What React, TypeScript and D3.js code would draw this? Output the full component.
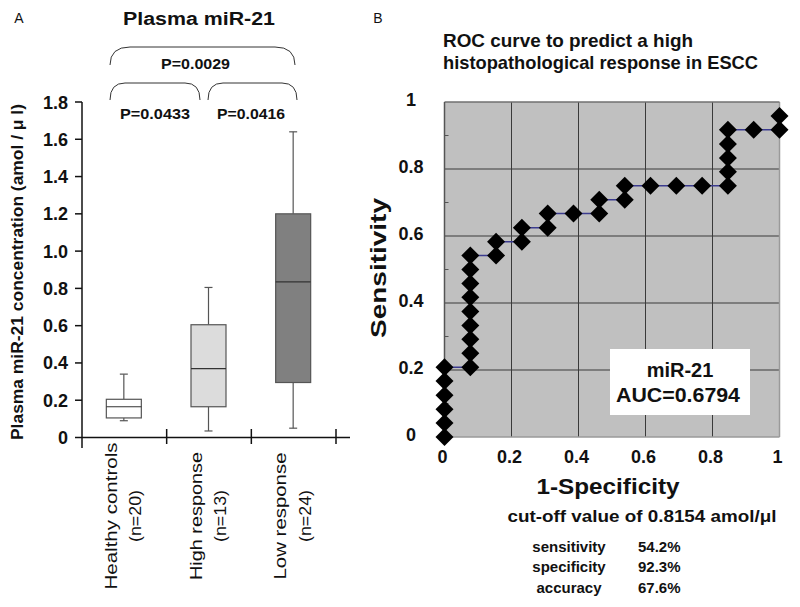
import React from "react";
import * as d3 from "d3";

// ---------- Panel A data ----------
const categories = ["Healthy controls", "High response", "Low response"];
const groupSizes = ["(n=20)", "(n=13)", "(n=24)"];
const whiskerLow = [0.09, 0.035, 0.05];
const q1 = [0.105, 0.165, 0.295];
const medians = [0.165, 0.37, 0.835];
const q3 = [0.205, 0.605, 1.2];
const whiskerHigh = [0.34, 0.805, 1.64];
const boxFills = ["#ffffff", "#dcdcdc", "#808080"];
const yTicksA = [0, 0.2, 0.4, 0.6, 0.8, 1.0, 1.2, 1.4, 1.6, 1.8];
const pValues = ["P=0.0029", "P=0.0433", "P=0.0416"];

// ---------- Panel B data ----------
const rocFpr = [
  0, 0, 0, 0, 0, 0,
  0.077, 0.077, 0.077, 0.077, 0.077, 0.077, 0.077, 0.077, 0.077,
  0.154, 0.154,
  0.231, 0.231,
  0.308, 0.308,
  0.385,
  0.462, 0.462,
  0.538, 0.538,
  0.615, 0.692, 0.769,
  0.846, 0.846, 0.846, 0.846, 0.846,
  0.923,
  1.0, 1.0,
];
const rocTpr = [
  0, 0.042, 0.083, 0.125, 0.167, 0.208,
  0.208, 0.25, 0.292, 0.333, 0.375, 0.417, 0.458, 0.5, 0.542,
  0.542, 0.583,
  0.583, 0.625,
  0.625, 0.667,
  0.667,
  0.667, 0.708,
  0.708, 0.75,
  0.75, 0.75, 0.75,
  0.75, 0.792, 0.833, 0.875, 0.917,
  0.917,
  0.917, 0.958,
];
const rocTicks = [0, 0.2, 0.4, 0.6, 0.8, 1];
const rocMinor = [0.1, 0.3, 0.5, 0.7, 0.9];
const statLabels = ["sensitivity", "specificity", "accuracy"];
const statValues = ["54.2%", "92.3%", "67.6%"];

const FONT = "'Liberation Sans', Arial, Helvetica, sans-serif";

type TProps = {
  x: number; y: number; s: number; bold?: boolean; anchor?: string;
  rot?: number; len?: number; fill?: string; children: React.ReactNode;
};
function T({ x, y, s, bold = true, anchor = "middle", rot = 0, len, fill = "#111", children }: TProps) {
  return (
    <text
      transform={`translate(${x},${y}) rotate(${rot})`}
      fontSize={s}
      fontWeight={bold ? "bold" : "normal"}
      textAnchor={anchor as any}
      fill={fill}
      fontFamily={FONT}
      {...(len ? { textLength: len, lengthAdjust: "spacingAndGlyphs" } : {})}
    >
      {children}
    </text>
  );
}

function bracket(x1: number, x2: number, yTop: number, yBot: number, r: number) {
  const p = d3.path();
  p.moveTo(x1, yBot);
  p.quadraticCurveTo(x1, yTop, x1 + r, yTop);
  p.lineTo(x2 - r, yTop);
  p.quadraticCurveTo(x2, yTop, x2, yBot);
  return p.toString();
}

export default function App() {
  // ----- Panel A scales -----
  const yA = d3.scaleLinear().domain([0, 1.8]).range([437.5, 102]);
  const xA = d3.scaleBand().domain(categories).range([82, 336]);
  const bw = xA.bandwidth();
  const boxW = 35;
  const axisA = 82;

  // ----- Panel B scales -----
  const xB = d3.scaleLinear().domain([0, 1]).range([444.5, 779.5]);
  const yB = d3.scaleLinear().domain([0, 1]).range([437, 102]);
  const rocPts: [number, number][] = rocFpr.map((f, i) => [f, rocTpr[i]]);
  const line = d3.line<[number, number]>().x((d) => xB(d[0])).y((d) => yB(d[1]));
  const dia = 9;

  return (
    <svg width={800} height={607} style={{ position: "absolute", left: 0, top: 0, background: "#fff" }}>
      <rect x={0} y={0} width={800} height={607} fill="#fff" />
      {/* Panel letters */}
      <T x={19} y={23} s={14} bold={false}>A</T>
      <T x={378} y={23} s={14} bold={false}>B</T>

      {/* ================= Panel A ================= */}
      <T x={199} y={25} s={18} len={152}>Plasma miR-21</T>

      {/* brackets */}
      <g fill="none" stroke="#333" strokeWidth={1}>
        <path d={bracket(110, 295, 47, 65, 20)} />
        <path d={bracket(110, 200, 83, 100, 15)} />
        <path d={bracket(208, 297, 83, 100, 15)} />
      </g>
      <T x={195.5} y={69} s={15} len={69}>{pValues[0]}</T>
      <T x={155} y={119} s={15} len={70}>{pValues[1]}</T>
      <T x={251} y={119} s={15} len={68}>{pValues[2]}</T>

      {/* y axis */}
      <g stroke="#111" strokeWidth={1.5}>
        <line x1={axisA} x2={axisA} y1={yA(1.8)} y2={448} />
        {yTicksA.map((t) => (
          <line key={t} x1={axisA - 7} x2={axisA} y1={yA(t)} y2={yA(t)} />
        ))}
        <line x1={axisA} x2={350} y1={yA(0)} y2={yA(0)} />
        {categories.map((c) => (
          <line key={c} x1={(xA(c) as number) + bw} x2={(xA(c) as number) + bw} y1={429} y2={444} />
        ))}
      </g>
      {yTicksA.map((t) => (
        <T key={t} x={68} y={yA(t) + 6.5} s={18} anchor="end">
          {t === 0 ? "0" : t.toFixed(1)}
        </T>
      ))}
      <T x={23} y={272} s={16} rot={-90} len={336}>
        Plasma miR-21 concentration (amol / μ l)
      </T>

      {/* boxes */}
      {categories.map((c, i) => {
        const cx = (xA(c) as number) + bw / 2 - 0.5;
        return (
          <g key={c} stroke="#555" strokeWidth={1.2}>
            <line x1={cx} x2={cx} y1={yA(whiskerHigh[i])} y2={yA(q3[i])} />
            <line x1={cx} x2={cx} y1={yA(q1[i])} y2={yA(whiskerLow[i])} />
            <line x1={cx - 4} x2={cx + 4} y1={yA(whiskerHigh[i])} y2={yA(whiskerHigh[i])} />
            <line x1={cx - 4} x2={cx + 4} y1={yA(whiskerLow[i])} y2={yA(whiskerLow[i])} />
            <rect
              x={cx - boxW / 2}
              y={yA(q3[i])}
              width={boxW}
              height={yA(q1[i]) - yA(q3[i])}
              fill={boxFills[i]}
            />
            <line x1={cx - boxW / 2} x2={cx + boxW / 2} y1={yA(medians[i])} y2={yA(medians[i])} stroke="#333" />
          </g>
        );
      })}

      {/* category labels */}
      {categories.map((c, i) => {
        const cx = (xA(c) as number) + bw / 2;
        const lens = [147, 128, 127];
        return (
          <g key={c}>
            <T x={cx - 7.5} y={516} s={17} bold={false} rot={-90} len={lens[i]}>{c}</T>
            <T x={cx + 17} y={516} s={17} bold={false} rot={-90} len={52}>{groupSizes[i]}</T>
          </g>
        );
      })}

      {/* ================= Panel B ================= */}
      <T x={443} y={47} s={18.5} anchor="start" len={250}>ROC curve to predict a high</T>
      <T x={443} y={69} s={18.5} anchor="start" len={315}>histopathological response in ESCC</T>

      <rect x={xB(0)} y={yB(1)} width={xB(1) - xB(0)} height={yB(0) - yB(1)} fill="#c0c0c0" />
      <g stroke="#3a3a3a" strokeWidth={1}>
        {rocTicks.slice(1, -1).map((t) => (
          <line key={"v" + t} x1={xB(t)} x2={xB(t)} y1={yB(1)} y2={yB(0)} />
        ))}
        {rocTicks.slice(1, -1).map((t) => (
          <line key={"h" + t} x1={xB(0)} x2={xB(1)} y1={yB(t)} y2={yB(t)} />
        ))}
        {rocMinor.map((t) => (
          <line key={"m" + t} x1={xB(0)} x2={xB(0) + 4} y1={yB(t)} y2={yB(t)} stroke="#555" />
        ))}
      </g>
      {/* borders */}
      <line x1={xB(1)} x2={xB(1)} y1={yB(1)} y2={yB(0)} stroke="#9a9a9a" strokeWidth={1.5} />
      <line x1={xB(0)} x2={xB(1)} y1={yB(0)} y2={yB(0)} stroke="#9a9a9a" strokeWidth={1.5} />
      <line x1={xB(0)} x2={xB(1)} y1={yB(1)} y2={yB(1)} stroke="#707070" strokeWidth={1.5} />
      <line x1={xB(0)} x2={xB(0)} y1={yB(1)} y2={yB(0)} stroke="#555" strokeWidth={1.5} />

      {/* ROC line + diamonds */}
      <path d={line(rocPts) as string} fill="none" stroke="#3b3b8f" strokeWidth={1.5} />
      {rocPts.map((d, i) => {
        const cx = xB(d[0]);
        const cy = yB(d[1]);
        return (
          <path
            key={i}
            d={`M${cx},${cy - dia}L${cx + dia},${cy}L${cx},${cy + dia}L${cx - dia},${cy}Z`}
            fill="#000"
          />
        );
      })}

      {/* AUC box */}
      <rect x={610} y={349} width={140} height={66} fill="#fff" />
      <T x={680} y={377} s={20}>miR-21</T>
      <T x={678} y={402} s={20} len={124}>AUC=0.6794</T>

      {/* axis labels */}
      {rocTicks.map((t) => (
        <T key={"yl" + t} x={411} y={yB(t) + 4} s={18}>{t === 0 || t === 1 ? String(t) : t.toFixed(1)}</T>
      ))}
      {rocTicks.map((t) => (
        <T key={"xl" + t} x={xB(t) - 2} y={463} s={18}>{t === 0 || t === 1 ? String(t) : t.toFixed(1)}</T>
      ))}
      <T x={386} y={268} s={22} rot={-90} len={140}>Sensitivity</T>
      <T x={608} y={494} s={22} len={143}>1-Specificity</T>
      <T x={642} y={522} s={17} len={269}>cut-off value of 0.8154 amol/μl</T>
      {statLabels.map((l, i) => (
        <g key={l}>
          <T x={569} y={[552, 572, 593][i]} s={15}>{l}</T>
          <T x={638} y={[552, 572, 593][i]} s={15} anchor="start">{statValues[i]}</T>
        </g>
      ))}
    </svg>
  );
}
